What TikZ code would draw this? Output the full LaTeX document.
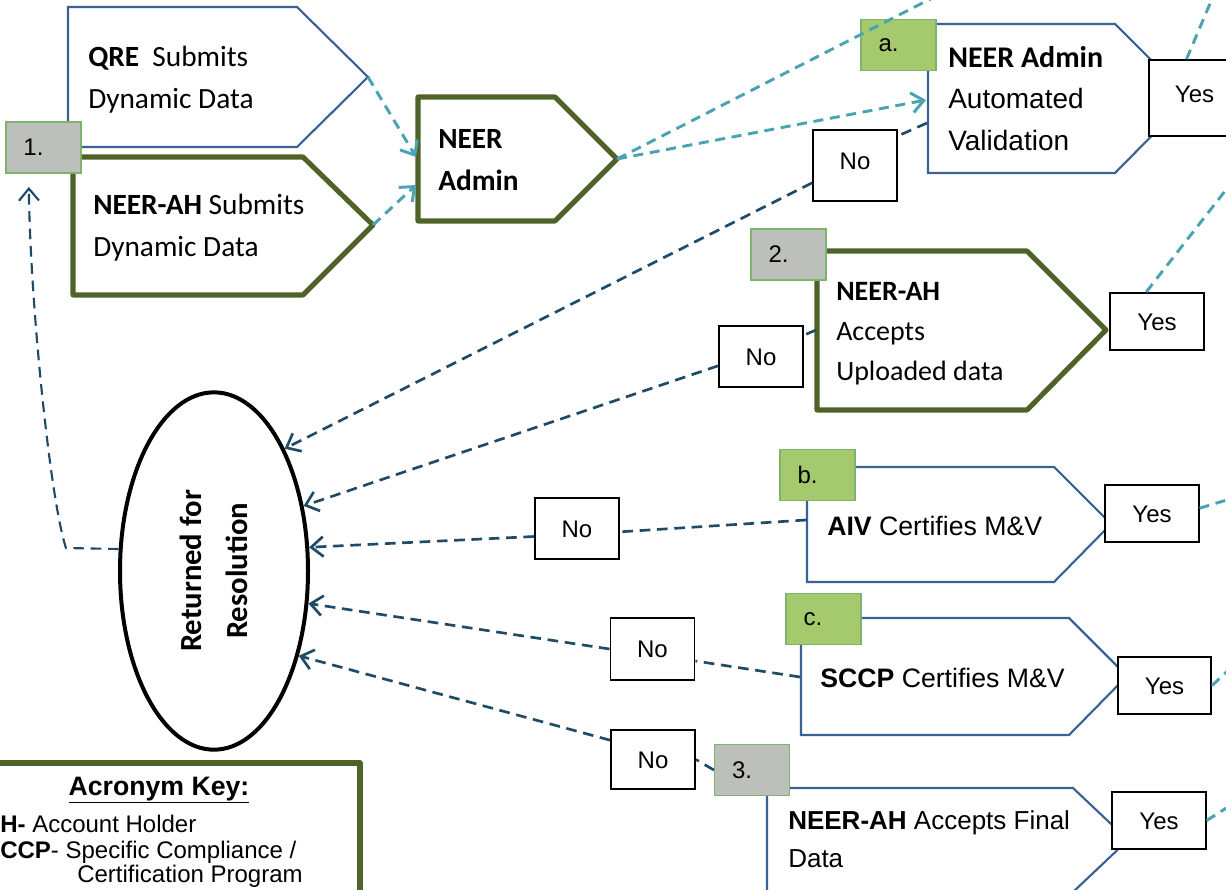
\documentclass[tikz,border=0pt]{standalone}
\usepackage{fontspec}
\setmainfont{Carlito}
\newfontfamily\arialfont{Liberation Sans}
\usepackage{tikz}
\usetikzlibrary{positioning,shapes.geometric,arrows.meta}
\definecolor{boxblue}{HTML}{3A6194}
\definecolor{boxgreen}{HTML}{4F6228}
\definecolor{flowteal}{HTML}{4AA3B3}
\definecolor{flownavy}{HTML}{1F4B66}
\definecolor{tagfill}{HTML}{BDBFBA}
\definecolor{tagline}{HTML}{7DB36E}
\definecolor{stepfill}{HTML}{A5C96D}

\begin{document}
\begin{tikzpicture}[x=0.75pt,y=-0.75pt,
    bluebox/.style={draw=boxblue,line width=1.6pt},
    greenbox/.style={draw=boxgreen,line width=3.8pt,line join=round},
    boxtext/.style={anchor=base west,align=left,inner sep=0pt,font=\fontsize{22}{31}\selectfont},
    arialtext/.style={anchor=base west,align=left,inner sep=0pt,font=\arialfont\fontsize{20}{30}\selectfont},
    tag/.style={draw=tagline,line width=1.2pt,fill=tagfill,minimum width=56pt,minimum height=38pt,text width=30pt,align=left,font=\arialfont\fontsize{18}{20}\selectfont},
    steptag/.style={tag,fill=stepfill},
    answer/.style={draw=black,line width=1.4pt,fill=white,text height=13pt,text depth=0pt,font=\arialfont\fontsize{18}{20}\selectfont},
    yesbox/.style={answer,minimum width=70pt,minimum height=43pt},
    nobox/.style={answer,minimum width=63pt,minimum height=46pt},
    tealflow/.style={draw=flowteal,line width=2.2pt,dash pattern=on 7.5pt off 5pt},
    navyflow/.style={draw=flownavy,line width=2pt,dash pattern=on 8pt off 5pt},
    barb/.style={-{Straight Barb[length=9pt,width=15pt]}},
    keytext/.style={anchor=base west,inner sep=0pt,font=\arialfont\fontsize{18}{20}\selectfont}
  ]
  \useasboundingbox (0,0) rectangle (1226,889);
  \clip (0,0) rectangle (1226,889);

  % submit and admin shapes
  \draw[bluebox] (68,7) -- (297,7) -- (368,77) coordinate (qretip) -- (297,147) -- (68,147) -- cycle;
  \draw[greenbox] (73,157) -- (303,157) -- (373,225) coordinate (ahtip) -- (303,295) -- (73,295) -- cycle;
  \draw[greenbox] (418,97) -- (555,97) -- (617,159) coordinate (admintip) -- (555,221) -- (418,221) -- cycle;
  \node[boxtext] (qre) at (88,108) {\textbf{QRE}\ \ Submits\\Dynamic Data};
  \node[boxtext] (ahsubmit) at (93,256) {\textbf{NEER-AH} Submits\\Dynamic Data};
  \node[boxtext,font=\bfseries\fontsize{22}{31}\selectfont] (admin) at (438,190) {NEER\\Admin};

  % checks
  \draw[bluebox] (928,24) -- (1115,24) -- (1189,98) -- (1115,173) -- (928,173) -- cycle;
  \draw[greenbox] (817,251) -- (1027,251) -- (1106,330) -- (1027,410) -- (817,410) -- cycle;
  \draw[bluebox] (807,467) -- (1054,467) -- (1111,524) -- (1054,582) -- (807,582) -- cycle;
  \draw[bluebox] (801,618) -- (1069,618) -- (1127,676) -- (1069,735) -- (801,735) -- cycle;
  \draw[bluebox] (767,788) -- (1073,788) -- (1128,840) -- (1073,892) -- (767,892) -- cycle;
  \node[arialtext,font=\arialfont\fontsize{21}{31}\selectfont] (autoval) at (948,150) {{\rmfamily\bfseries\fontsize{22.5}{31}\selectfont NEER Admin}\\Automated\\Validation};
  \node[boxtext,font=\fontsize{21}{30}\selectfont] (accept) at (836,380) {\textbf{NEER-AH}\\Accepts\\Uploaded data};
  \node[arialtext] (aiv) at (827,535) {\textbf{AIV} Certifies M\&V};
  \node[arialtext] (sccp) at (820,687) {\textbf{SCCP} Certifies M\&V};
  \node[arialtext,font=\arialfont\fontsize{19.5}{28.5}\selectfont] (final) at (788,867) {\textbf{NEER-AH} Accepts Final\\Data};

  \coordinate (adminhi) at (416,157);
  \coordinate (adminlo) at (416,185);
  \coordinate (autoin) at (926,100);
  \coordinate (autono) at (927,123);
  \coordinate (acceptno) at (816,330);
  \coordinate (aivno) at (806,520);
  \coordinate (sccpno) at (800,677);

  % step tags
  \node[tag] (one) at (43.5,147.5) {1.};
  \node[steptag] (stepa) at (898.5,45) {a.};
  \node[tag] (two) at (788.5,254.5) {2.};
  \node[steptag] (stepb) at (817.5,475) {b.};
  \node[steptag] (stepc) at (823.5,619) {c.};
  \node[tag] (three) at (752,770) {3.};

  % answers
  \node[yesbox,minimum width=68pt,minimum height=57pt,text depth=7pt] (yesa) at (1194.5,98) {Yes};
  \node[nobox,minimum height=53pt,text depth=7pt] (noa) at (855,165.5) {No};
  \node[yesbox] (yestwo) at (1157,321.5) {Yes};
  \node[nobox] (notwo) at (761,356.5) {No};
  \node[yesbox] (yesb) at (1152,513.5) {Yes};
  \node[nobox] (nob) at (577,528.5) {No};
  \node[yesbox] (yesc) at (1164.5,685.5) {Yes};
  \node[nobox] (noc) at (652.5,649) {No};
  \node[yesbox] (yesthree) at (1159,820.5) {Yes};
  \node[nobox,minimum height=44pt] (nothree) at (653,759.5) {No};

  % resolution
  \node[ellipse,draw=black,line width=3pt,minimum width=141pt,minimum height=268pt] (ret) at (214,571) {};
  \node[rotate=90,align=center,font=\bfseries\fontsize{23}{34}\selectfont] (rettext) at (ret.center) {Returned for\\Resolution};

  % key
  \draw[greenbox] (-10,763) rectangle (360,900);
  \node[keytext,anchor=base,font=\arialfont\bfseries\fontsize{20}{22}\selectfont] (keyhead) at (159,795) {\underline{Acronym Key:}};
  \node[keytext] (keyah) at (0,832) {\textbf{H-} Account Holder};
  \node[keytext] (keysccp) at (0,858) {\textbf{CCP}- Specific Compliance /};
  \node[keytext] (keyprog) at (77,882) {Certification Program};

  % flows
  \coordinate (upa) at (1083,-79);
  \coordinate (upb) at (1220,-20);
  \coordinate (upc) at (1250,159);
  \coordinate (outb) at (1250,493);
  \coordinate (outc) at (1250,650);
  \coordinate (outthree) at (1250,793);
  \draw[tealflow,barb] (qretip) -- (adminhi);
  \draw[tealflow,barb] (ahtip) -- (adminlo);
  \draw[tealflow] (admintip) -- (upa);
  \draw[tealflow,barb] (admintip) -- (autoin);
  \draw[tealflow] ([xshift=-6pt]yesa.north) -- (upb);
  \draw[tealflow] ([xshift=-8pt]yestwo.north) -- (upc);
  \draw[tealflow] ([yshift=4pt]yesb.east) -- (outb);
  \draw[tealflow] (yesc.east) -- (outc);
  \draw[tealflow] (yesthree.east) -- (outthree);

  \draw[navyflow] (autono) -- ([yshift=-5pt]noa.north east);
  \draw[navyflow,barb] ([yshift=-13pt]noa.west) -- (ret.60);
  \draw[navyflow] (acceptno) -- ([yshift=16pt]notwo.east);
  \draw[navyflow,barb] ([yshift=-7pt]notwo.west) -- (ret.36);
  \draw[navyflow] (aivno) -- ([yshift=-2.5pt]nob.east);
  \draw[navyflow,barb] ([yshift=-6pt]nob.west) -- (ret.14);
  \draw[navyflow] (sccpno) -- ([yshift=-9pt]noc.east);
  \draw[navyflow,barb] (noc.west) -- (ret.-19);
  \draw[navyflow] (three.west) -- (nothree.east);
  \draw[navyflow,barb] ([yshift=14.5pt]nothree.west) -- (ret.-45);
  \draw[navyflow,line width=1.6pt,barb] (ret.167) -- (66,548) .. controls (50,500) and (30,300) .. ([xshift=-11pt,yshift=-10pt]one.south);
\end{tikzpicture}
\end{document}
